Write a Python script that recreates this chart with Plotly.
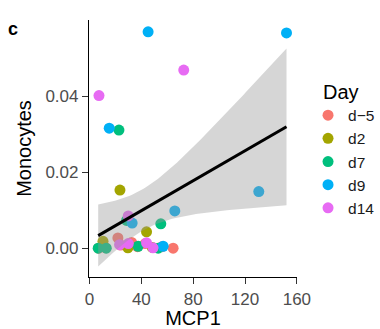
import numpy as np
import plotly.graph_objects as go

days = ["d\u22125", "d2", "d7", "d9", "d14"]
colors = ["#F8766D", "#A3A500", "#00BF7D", "#00B0F6", "#E76BF3"]

# several d-5 / d2 samples sit hidden under the dense cluster near zero
mcp1_dm5 = [7.0, 21.9, 32.5, 64.5, 12.5, 24.0, 37.0, 43.0, 56.0]
mono_dm5 = [0.0000, 0.0027, 0.0015, 0.0000, 0.0001, 0.0008, 0.0004, 0.0012, 0.0004]

mcp1_d2 = [23.5, 44.0, 10.4, 29.6, 48.5]
mono_d2 = [0.0153, 0.0043, 0.0018, 0.0001, 0.0002]

mcp1_d7 = [22.7, 55.0, 28.6, 37.5, 53.0, 6.7, 12.9]
mono_d7 = [0.0311, 0.0064, 0.0073, 0.0005, 0.0000, 0.0000, 0.0000]

mcp1_d9 = [45.2, 152.0, 15.2, 130.6, 65.8, 32.9, 56.8]
mono_d9 = [0.0570, 0.0567, 0.0316, 0.0149, 0.0098, 0.0066, 0.0005]

mcp1_d14 = [72.7, 7.3, 29.9, 23.2, 29.9, 44.0, 49.0]
mono_d14 = [0.0469, 0.0402, 0.0085, 0.0009, 0.0012, 0.0014, 0.0001]

xs = [mcp1_dm5, mcp1_d2, mcp1_d7, mcp1_d9, mcp1_d14]
ys = [mono_dm5, mono_d2, mono_d7, mono_d9, mono_d14]

x_ticks = [0, 40, 80, 120, 160]
y_ticks = [0.00, 0.02, 0.04]
y_tick_labels = ["0.00", "0.02", "0.04"]

fig = go.Figure()
for name, col, x, y in zip(days, colors, xs, ys):
    fig.add_trace(go.Scatter(x=x, y=y, mode="markers", name=name,
                             marker=dict(color=col, size=11, line=dict(width=0))))

# linear fit with 95% confidence band (like geom_smooth(method="lm"))
X = np.concatenate([np.array(v, float) for v in xs])
Y = np.concatenate([np.array(v, float) for v in ys])
n = len(X)
b1, b0 = np.polyfit(X, Y, 1)
resid = Y - (b0 + b1 * X)
s = np.sqrt(np.sum(resid ** 2) / (n - 2))
xbar = X.mean()
sxx = np.sum((X - xbar) ** 2)
tcrit = 2.035
xg = np.linspace(X.min(), X.max(), 80)
yg = b0 + b1 * xg
se = s * np.sqrt(1.0 / n + (xg - xbar) ** 2 / sxx)
upper = yg + tcrit * se
lower = yg - tcrit * se

fig.add_trace(go.Scatter(x=np.concatenate([xg, xg[::-1]]),
                         y=np.concatenate([upper, lower[::-1]]),
                         fill="toself", fillcolor="rgba(153,153,153,0.4)",
                         line=dict(width=0), mode="lines", hoverinfo="skip",
                         showlegend=False))
fig.add_trace(go.Scatter(x=xg, y=yg, mode="lines", line=dict(color="black", width=3),
                         showlegend=False))

fig.update_layout(
    width=380, height=329,
    margin=dict(l=88.5, r=83, t=20, b=52, autoexpand=False),
    paper_bgcolor="white", plot_bgcolor="white",
    font=dict(family="Liberation Sans, Arial, sans-serif", color="black"),
    legend=dict(font=dict(size=15.5, color="#1a1a1a"),
                x=1.053, y=0.694, xanchor="left", yanchor="top",
                tracegroupgap=0, itemsizing="trace", bgcolor="rgba(0,0,0,0)"),
    annotations=[
        dict(text="<b>c</b>", x=-0.367, y=0.965, xref="paper", yref="paper",
             showarrow=False, font=dict(size=18, color="black"),
             xanchor="center", yanchor="middle"),
        dict(text="Day", x=1.115, y=0.7198, xref="paper", yref="paper",
             showarrow=False, font=dict(size=20, color="black"),
             xanchor="left", yanchor="middle"),
    ],
)
fig.update_xaxes(range=[-0.4, 160.1], tickvals=x_ticks, ticktext=[str(t) for t in x_ticks],
                 showgrid=False, zeroline=False, showline=True, linecolor="black", linewidth=1.2,
                 ticks="outside", ticklen=6, tickcolor="#333333", tickwidth=1.2,
                 tickfont=dict(size=17, color="#4D4D4D"),
                 title=dict(text="MCP1", font=dict(size=20, color="black"), standoff=8))
fig.update_yaxes(range=[-0.0076, 0.0601], tickvals=y_ticks, ticktext=y_tick_labels,
                 showgrid=False, zeroline=False, showline=True, linecolor="black", linewidth=1.2,
                 ticks="outside", ticklen=6, tickcolor="#333333", tickwidth=1.2,
                 tickfont=dict(size=17, color="#4D4D4D"),
                 title=dict(text="Monocytes", font=dict(size=20, color="black"), standoff=8))

fig.write_html("out.html")
